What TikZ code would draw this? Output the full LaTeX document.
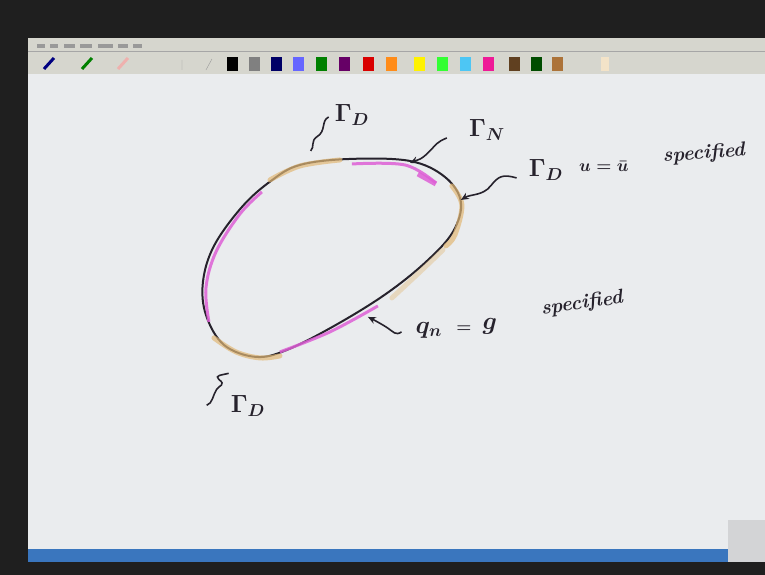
\documentclass[tikz,border=0pt]{standalone}
\usepackage{tikz}
\usetikzlibrary{arrows.meta, positioning, calc}
\definecolor{board}{RGB}{234,236,238}
\definecolor{panel}{RGB}{214,214,206}
\definecolor{ink}{RGB}{38,34,44}
\definecolor{pinkpen}{RGB}{222,96,214}
\definecolor{tanpen}{RGB}{226,184,118}
\definecolor{barblue}{RGB}{58,118,190}

\begin{document}
\begin{tikzpicture}[x=1pt, y=-1pt,
    hand/.style={font=\boldmath\fontsize{25}{27}\selectfont, text=ink, inner sep=0pt},
    note/.style={font=\bfseries\itshape\fontsize{20}{22}\selectfont, text=ink, inner sep=0pt},
    arr/.style={-{Stealth[length=8pt, width=7pt]}, line width=1.6pt, ink},
    squig/.style={line width=1.6pt, ink},
    swatch/.style={minimum width=11pt, minimum height=14pt, inner sep=0pt},
    rim/.style={line width=2pt, ink},
    pinkline/.style={line width=3pt, pinkpen, opacity=.85},
    tanline/.style={line width=5pt, tanpen, opacity=.7, line cap=round},
  ]
    % screen and whiteboard
    \fill[black!88] (0,0) rectangle (765,575);
    \fill[panel] (28,38) rectangle (765,74);
    \draw[black!35] (28,51) -- (765,51);
    \fill[board] (28,74) rectangle (765,549);
    \fill[barblue] (28,549) rectangle (728,562);
    \fill[board!90!black] (728,520) rectangle (765,562);

    % menu entries and pens
    \foreach \mx/\mw in {37/8, 50/8, 64/11, 80/12, 98/15, 118/10, 133/9}
      \fill[black!40] (\mx,44) rectangle ++(\mw,4);
    \draw[line width=3pt, blue!50!black] (44,69) -- (54,58);
    \draw[line width=3pt, green!50!black] (82,69) -- (92,58);
    \draw[line width=3pt, pink!80!red, opacity=.6] (118,69) -- (128,58);
    \draw[black!40] (182,70) -- (182,60) (206,70) -- (212,59);

    % colour swatches
    \foreach \sx/\sc in {233/black, 255/gray, 277/blue!40!black, 299/blue!60!white,
        322/green!50!black, 345/violet!80!black, 369/red!85!black, 392/orange!90!white,
        420/yellow, 443/green!80!white, 466/cyan!70!white, 489/magenta!90!white,
        515/brown!50!black, 537/green!30!black, 558/brown!90!black}
      \node[swatch, fill=\sc] (sw\sx) at (\sx,64) {};
    \node[swatch, fill=tanpen!40, minimum width=8pt] (sw605) at (605,64) {};

    % boundary
    \draw[rim] plot[smooth cycle, tension=0.6] coordinates {(300,165) (350,159) (410,161)
      (445,177) (461,202) (453,232) (426,262) (386,294) (336,325) (287,350)
      (256,357) (224,345) (206,315) (203,282) (214,246) (242,207) (271,181)};

    % Dirichlet strips
    \draw[tanline] plot[smooth, tension=0.6] coordinates {(270,180) (300,166) (340,160)};
    \draw[tanline] plot[smooth, tension=0.6] coordinates {(452,186) (462,205) (455,235) (446,246)};
    \draw[tanline, opacity=.4] plot[smooth, tension=0.6] coordinates {(443,250) (420,272) (392,298)};
    \draw[tanline] plot[smooth, tension=0.6] coordinates {(214,338) (236,352) (260,358) (280,356)};

    % Neumann strips
    \draw[pinkline] plot[smooth, tension=0.6] coordinates {(209,322) (206,288) (216,252) (240,214) (262,192)};
    \draw[pinkline] plot[smooth, tension=0.6] coordinates {(352,164) (405,165) (436,183)};
    \draw[pinkline, line width=5pt] (418,174) -- (436,184);
    \draw[pinkline] plot[smooth, tension=0.6] coordinates {(280,352) (330,332) (378,306)};

    % labels
    \node[hand] (gdtop) at (352,115) {$\Gamma_D$};
    \node[hand] (gn) at (487,130) {$\Gamma_N$};
    \node[hand] (gdright) at (546,170) {$\Gamma_D$};
    \node[hand, font=\boldmath\fontsize{18}{20}\selectfont] (ubar) at (604,166) {$u=\bar{u}$};
    \node[note, rotate=4] (spec1) at (704,154) {specified};
    \node[hand] (qn) at (429,330) {$q_n$};
    \node[hand, font=\boldmath\fontsize{18}{20}\selectfont] (eq) at (464,329) {$=$};
    \node[hand, font=\boldmath\fontsize{28}{30}\selectfont] (gval) at (490,326) {$g$};
    \node[note, rotate=8] (spec2) at (582,304) {specified};
    \node[hand] (gdlow) at (248,406) {$\Gamma_D$};

    % pointers
    \coordinate (ntip) at (410,163);
    \coordinate (dtip) at (461,200);
    \coordinate (qtip) at (368,317);
    \draw[squig] ($(gdtop.west)+(-6,2)$) .. controls +(-8,4) and +(10,-6) .. ++(-12,20)
      .. controls +(-6,4) and +(4,-4) .. ++(-6,14);
    \draw[squig] ($(gdlow.north west)+(-2,-22)$) .. controls +(-8,2) and +(-4,-4) .. ++(-10,6)
      .. controls +(8,6) and +(2,-4) .. ++(-2,10)
      .. controls +(-4,6) and +(6,-2) .. ++(-10,16);
    \draw[arr] ($(gn.west)+(-22,8)$) .. controls +(-10,4) and +(8,-8) .. ++(-18,14)
      .. controls +(-8,8) and +(10,-4) .. (ntip);
    \draw[arr] ($(gdright.west)+(-12,8)$) .. controls +(-14,-4) and +(8,-10) .. ++(-26,8)
      .. controls +(-8,10) and +(10,-6) .. (dtip);
    \draw[arr] ($(qn.west)+(-14,2)$) .. controls +(-6,4) and +(6,4) .. ++(-14,-4)
      .. controls +(-6,-4) and +(4,2) .. (qtip);
  \end{tikzpicture}
\end{document}
